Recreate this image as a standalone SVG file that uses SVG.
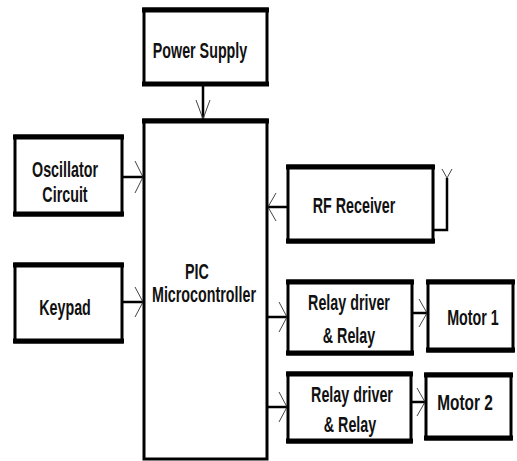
<svg xmlns="http://www.w3.org/2000/svg" width="517" height="461" viewBox="0 0 517 461">
<style>
.box{fill:#fff;stroke:#000;stroke-width:3}
.bar{stroke:#000;stroke-width:5;fill:none}
.t{font-family:"Liberation Sans",Arial,sans-serif;font-weight:bold;font-size:22px;fill:#111;text-anchor:middle}
.ln{stroke:#000;stroke-width:2.5;fill:none}
.ah{stroke:#444;stroke-width:1;fill:none}
</style>
<rect width="517" height="461" fill="#fff"/>
<g id="connectors">
<line class="ln" x1="203" y1="85" x2="203" y2="119"/>
<polyline class="ah" points="196,100 203,119 210,100"/>
<line class="ln" x1="123" y1="177" x2="143" y2="177"/>
<polyline class="ah" points="135,161 143,177 135,193"/>
<line class="ln" x1="123" y1="302" x2="143" y2="302"/>
<polyline class="ah" points="135,287 143,302 135,317"/>
<line class="ln" x1="268" y1="207" x2="287" y2="207"/>
<polyline class="ah" points="276,193 268,207 276,221"/>
<line class="ln" x1="268" y1="317" x2="287" y2="317"/>
<polyline class="ah" points="279,302 287,317 279,332"/>
<line class="ln" x1="268" y1="407" x2="287" y2="407"/>
<polyline class="ah" points="279,392 287,407 279,422"/>
<line class="ln" x1="413" y1="313" x2="427" y2="313"/>
<polyline class="ah" points="419,299 427,313 419,327"/>
<line class="ln" x1="412" y1="402" x2="425" y2="402"/>
<polyline class="ah" points="417,388 425,402 417,416"/>
<polyline class="ln" points="434,230 447,230 447,178" stroke-width="2"/>
<polyline class="ah" points="442,169 447,178 452,169" stroke="#666"/>
</g>
<g id="power-supply">
<rect class="box" x="144" y="9" width="123" height="75"/>
<line class="bar" x1="142" y1="10" x2="269" y2="10"/>
<line class="bar" x1="142" y1="84" x2="269" y2="84"/>
<text class="t" transform="translate(200,58) scale(0.65,1)">Power Supply</text>
</g>
<g id="pic">
<rect class="box" x="144" y="120" width="123" height="339" stroke-width="2.5"/>
<line class="bar" x1="142" y1="121" x2="269" y2="121"/>
<text class="t" transform="translate(197,279) scale(0.65,1)">PIC</text>
<text class="t" transform="translate(204,302) scale(0.65,1)">Microcontroller</text>
</g>
<g id="oscillator">
<rect class="box" x="15" y="136" width="107" height="79"/>
<line class="bar" x1="13" y1="137" x2="124" y2="137"/>
<line class="bar" x1="13" y1="214" x2="124" y2="214"/>
<text class="t" transform="translate(65,177) scale(0.65,1)">Oscillator</text>
<text class="t" transform="translate(65,202) scale(0.65,1)">Circuit</text>
</g>
<g id="keypad">
<rect class="box" x="15" y="264" width="107" height="78"/>
<line class="bar" x1="13" y1="265" x2="124" y2="265"/>
<line class="bar" x1="13" y1="341" x2="124" y2="341"/>
<text class="t" transform="translate(65,315) scale(0.65,1)">Keypad</text>
</g>
<g id="rf-receiver">
<rect class="box" x="288" y="166" width="145" height="76"/>
<line class="bar" x1="286" y1="167" x2="435" y2="167"/>
<line class="bar" x1="286" y1="241" x2="435" y2="241"/>
<text class="t" transform="translate(354,213) scale(0.65,1)">RF Receiver</text>
</g>
<g id="relay1">
<rect class="box" x="288" y="281" width="124" height="73"/>
<line class="bar" x1="286" y1="282" x2="414" y2="282"/>
<line class="bar" x1="286" y1="353" x2="414" y2="353"/>
<text class="t" transform="translate(349,310) scale(0.65,1)">Relay driver</text>
<text class="t" transform="translate(349,343) scale(0.65,1)">&amp; Relay</text>
</g>
<g id="motor1">
<rect class="box" x="428" y="281" width="85" height="70"/>
<line class="bar" x1="426" y1="282" x2="515" y2="282"/>
<line class="bar" x1="426" y1="350" x2="515" y2="350"/>
<text class="t" transform="translate(473,325) scale(0.65,1)">Motor 1</text>
</g>
<g id="relay2">
<rect class="box" x="288" y="373" width="123" height="69"/>
<line class="bar" x1="286" y1="374" x2="413" y2="374"/>
<line class="bar" x1="286" y1="441" x2="413" y2="441"/>
<text class="t" transform="translate(352,402) scale(0.65,1)">Relay driver</text>
<text class="t" transform="translate(350,432) scale(0.65,1)">&amp; Relay</text>
</g>
<g id="motor2">
<rect class="box" x="426" y="374" width="85" height="65"/>
<line class="bar" x1="424" y1="375" x2="513" y2="375"/>
<line class="bar" x1="424" y1="438" x2="513" y2="438"/>
<text class="t" transform="translate(465,410) scale(0.7,1)">Motor 2</text>
</g>
</svg>
